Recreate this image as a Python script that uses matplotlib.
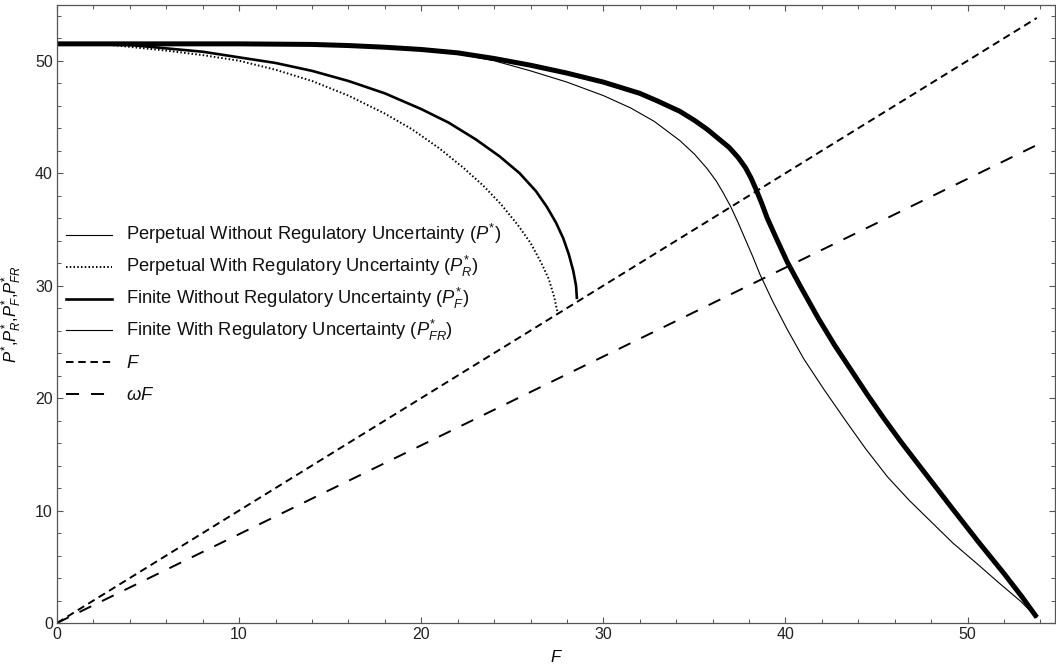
import numpy as np
import matplotlib
matplotlib.use("Agg")
import matplotlib.pyplot as plt
import matplotlib.ticker as ticker
from matplotlib.lines import Line2D

plt.rcParams['font.family'] = ['Liberation Sans', 'DejaVu Sans']
plt.rcParams['mathtext.fontset'] = 'custom'
plt.rcParams['mathtext.rm'] = 'Liberation Sans'
plt.rcParams['mathtext.it'] = 'Liberation Sans:italic'
plt.rcParams['lines.scale_dashes'] = False

# DATA

omega = 0.79
f_line = [0, 53.8]

# thick curve, runs all the way down to F max
thick_x = [0, 10, 14, 16, 18, 20, 22, 24, 26, 28, 30, 32, 33, 34.2, 35.0, 35.7, 36.3, 36.9,
           37.4, 37.8, 38.1, 38.4, 38.7, 39.0, 39.5, 40.1, 40.8, 41.8, 42.7, 43.6, 44.5, 45.4,
           46.3, 47.2, 48.2, 49.2, 50.6, 52.0, 53.0, 53.8]
thick_y = [51.5, 51.5, 51.45, 51.35, 51.2, 51.0, 50.7, 50.2, 49.6, 48.9, 48.1, 47.1, 46.4, 45.5,
           44.7, 43.9, 43.1, 42.3, 41.4, 40.5, 39.6, 38.5, 37.3, 36.0, 34.2, 32.1, 30.0, 27.1,
           24.7, 22.5, 20.3, 18.2, 16.2, 14.3, 12.2, 10.1, 7.2, 4.4, 2.3, 0.5]

# thin curve
thin_x = [0, 12, 15, 18, 20, 22, 24, 26, 28, 30, 31.5, 32.8, 34.2, 35.0, 35.7, 36.2, 36.6, 37.0,
          37.4, 37.8, 38.2, 38.6, 39.3, 40.1, 41.0, 42.1, 43.3, 44.4, 45.6, 46.8, 48.0, 49.2,
          50.5, 51.7, 52.9, 53.8]
thin_y = [51.5, 51.5, 51.4, 51.2, 51.0, 50.6, 50.0, 49.1, 48.1, 46.9, 45.8, 44.6, 42.9, 41.7,
          40.4, 39.3, 38.2, 37.0, 35.6, 34.1, 32.6, 31.0, 28.6, 26.1, 23.5, 20.8, 18.0, 15.5,
          13.0, 10.9, 9.0, 7.1, 5.3, 3.6, 1.95, 0.5]

# medium curve, stops on the F line
mid_x = [0, 4, 6, 8, 10, 12, 14, 16, 18, 20, 21.5, 23, 24.3, 25.4, 26.3, 26.9, 27.4, 27.8,
         28.1, 28.35, 28.5, 28.55]
mid_y = [51.5, 51.4, 51.1, 50.8, 50.3, 49.8, 49.1, 48.2, 47.1, 45.7, 44.5, 43.0, 41.5, 40.0,
         38.4, 37.0, 35.6, 34.2, 32.8, 31.3, 30.0, 28.8]

# dotted curve, stops on the F line
dot_x = [0, 3, 6, 8, 10, 12, 14, 16, 18, 19.5, 21, 22.3, 23.4, 24.4, 25.3, 26.0, 26.6, 27.0,
         27.3, 27.5]
dot_y = [51.5, 51.4, 50.9, 50.5, 50.0, 49.2, 48.2, 46.9, 45.3, 43.9, 42.2, 40.5, 38.9, 37.2,
         35.4, 33.8, 32.0, 30.6, 29.0, 27.5]

legend_labels = [
    "Perpetual Without Regulatory Uncertainty ($P^{*}$)",
    "Perpetual With Regulatory Uncertainty ($P^{*}_{R}$)",
    "Finite Without Regulatory Uncertainty ($P^{*}_{F}$)",
    "Finite With Regulatory Uncertainty ($P^{*}_{FR}$)",
    "$F$",
    "$\\omega F$",
]

# PLOTTING

W, H = 1056, 670
fig = plt.figure(figsize=(W / 100, H / 100), dpi=100)
ax = fig.add_axes([57 / W, 47 / H, (1055 - 57) / W, (623 - 4.5) / H])

short_dash = (0, (5.4, 3.4))
long_dash = (0, (9.4, 8.6))
dots = (0, (1.1, 1.6))

f_arr = np.array(f_line)
ax.plot(f_arr, f_arr, color='black', lw=1.4, linestyle=short_dash)
ax.plot(f_arr, omega * f_arr, color='black', lw=1.4, linestyle=long_dash)
ax.plot(dot_x, dot_y, color='black', lw=1.4, linestyle=dots)
ax.plot(mid_x, mid_y, color='black', lw=1.9, solid_capstyle='butt')
ax.plot(thin_x, thin_y, color='black', lw=0.8)
ax.plot(thick_x, thick_y, color='black', lw=3.6, solid_capstyle='butt', solid_joinstyle='round')

ax.set_xlim(0, 54.8)
ax.set_ylim(0, 55)

ax.xaxis.set_major_locator(ticker.MultipleLocator(10))
ax.xaxis.set_minor_locator(ticker.MultipleLocator(2))
ax.yaxis.set_major_locator(ticker.MultipleLocator(10))
ax.yaxis.set_minor_locator(ticker.MultipleLocator(2))
ax.tick_params(which='both', direction='in', top=True, right=True, color='#555555')
ax.tick_params(which='major', length=4.5, width=0.8, labelsize=11.5, labelcolor='#222222', pad=3)
ax.tick_params(which='minor', length=2.6, width=0.7)
for sp in ax.spines.values():
    sp.set_color('#555555')
    sp.set_linewidth(0.9)

ax.set_xlabel("$F$", fontsize=12, labelpad=5)
ax.set_ylabel("$P^{*}$,$P^{*}_{R}$,$P^{*}_{F}$,$P^{*}_{FR}$", fontsize=12, labelpad=8)

# legend drawn by hand so the rows keep an even pitch
legend_styles = [
    dict(lw=0.8),
    dict(lw=1.4, linestyle=dots),
    dict(lw=1.9),
    dict(lw=0.8),
    dict(lw=1.4, linestyle=short_dash),
    dict(lw=1.4, linestyle=long_dash),
]
row_y0, row_step = 235, 31.8
for i, (lab, sty) in enumerate(zip(legend_labels, legend_styles)):
    yy = 1 - (row_y0 + i * row_step) / H
    fig.add_artist(Line2D([66 / W, 112 / W], [yy, yy], transform=fig.transFigure, color='black', **sty))
    fig.text(126 / W, yy - 5.5 / H, lab, fontsize=13.2, color='#111111', va='baseline', ha='left')

fig.savefig("out.png", dpi=100)
